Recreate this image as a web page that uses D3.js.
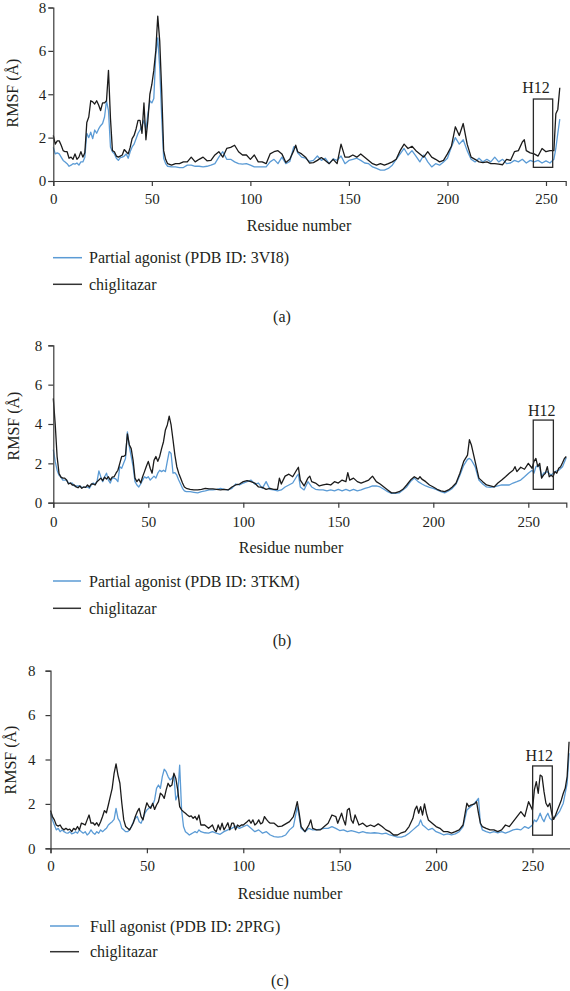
<!DOCTYPE html>
<html><head><meta charset="utf-8">
<script src="https://cdn.jsdelivr.net/npm/d3@7"></script>
<style>
body{margin:0;background:#fff}
svg{display:block}
text{font-family:"Liberation Serif","DejaVu Serif",serif;fill:#231f20}
</style>
</head><body>
<svg id="chart" width="570" height="991"></svg>
<script>
// ---------- DATA: [residue, RMSF (Å)] ----------
const xTicks = [0, 50, 100, 150, 200, 250];
const yTicks = [0, 2, 4, 6, 8];
const seriesNames = ["chiglitazar"];
const refNames = ["Partial agonist (PDB ID: 3VI8)", "Partial agonist (PDB ID: 3TKM)", "Full agonist (PDB ID: 2PRG)"];
const captions = ["(a)", "(b)", "(c)"];
const h12Boxes = [[243.6, 253.4, 0.63, 3.78], [252.6, 263.2, 0.68, 4.2], [250.1, 260.3, 0.59, 3.71]];

const A_chig = [[0,2.1],[1,1.7],[2,1.85],[3,1.85],[4,1.65],[5,1.4],[6,1.35],[7,1.35],[8,1.05],[9,1.1],[10,1.0],[11,1.25],[12,1.0],[13,1.1],[14,1.35],[15,1.1],[16,1.3],[17,2.7],[18,2.95],[19,3.7],[20,3.65],[21,3.55],[22,3.7],[23,3.5],[24,3.25],[25,3.6],[26,3.6],[27,3.7],[28,5.1],[29,2.9],[30,1.4],[31,1.35],[32,1.15],[33,1.1],[34,1.15],[35,1.2],[36,1.45],[37,1.35],[38,1.25],[39,1.55],[40,1.95],[41,2.1],[42,2.4],[43,2.8],[44,2.8],[45,2.2],[46,3.6],[47,1.9],[48,2.8],[49,4.0],[50,4.45],[51,5.1],[52,6.0],[53,7.6],[54,6.45],[55,4.15],[56,1.4],[57,1.0],
[58,0.8],[60,0.73],[62,0.8],[64,0.8],[66,0.88],[68,0.88],[70,1.1],[72,0.88],[74,1.0],[76,1.1],[78,0.93],[80,0.95],[82,1.2],[84,1.35],[86,1.1],[88,1.5],[90,1.55],[92,1.65],[94,1.35],[96,1.2],[98,1.2],[100,1.0],[102,1.2],[104,0.88],[106,0.88],[108,0.8],[110,1.25],[112,1.35],[114,1.4],[116,1.25],[118,0.85],[120,1.0],[122,1.4],[123,1.65],[124,1.35],[126,1.25],[128,1.1],[130,0.83],[132,0.85],[134,0.95],[136,1.08],[138,0.95],[140,0.8],[142,1.0],[144,0.8],[146,1.7],[148,1.1],[150,1.1],[152,1.2],[154,1.1],[156,1.25],[158,1.1],[160,0.95],[162,0.8],[164,0.73],[166,0.8],[168,0.73],[170,0.8],[172,0.88],[174,1.0],[176,1.4],[178,1.7],[180,1.5],[182,1.6],[184,1.4],[186,1.25],[188,1.1],[190,1.35],[192,1.1],[194,1.0],[196,0.88],[198,0.95],[200,1.25],[202,1.6],[204,2.5],[206,2.1],[208,2.65],[210,1.7],[212,1.1],[214,1.0],[216,0.88],[218,0.85],[220,0.88],[222,0.8],[224,0.8],[226,0.78],[228,0.75],[230,1.0],[232,0.95],[234,1.35],[236,1.4],[238,1.8],[239,1.9],[240,1.4],[242,1.3],[244,1.25],[246,1.15],[248,1.5],[250,1.35],[252,1.4],[254,1.4],[255,3.1],[256,3.3],[257,4.3]];

const A_ref = [[0,1.55],[1,1.25],[2,1.3],[3,1.25],[4,1.1],[5,0.95],[6,0.88],[7,0.8],[8,0.68],[9,0.73],[10,0.8],[11,0.78],[12,0.83],[13,0.73],[14,0.88],[15,0.88],[16,1.1],[17,2.2],[18,2.0],[19,2.25],[20,1.95],[21,2.35],[22,2.2],[23,2.4],[24,2.55],[25,2.65],[26,2.95],[27,3.7],[28,3.25],[29,1.57],[30,1.35],[31,1.25],[32,1.05],[33,0.95],[34,1.08],[35,1.1],[36,1.15],[37,1.25],[38,1.05],[39,1.35],[40,1.57],[41,1.7],[42,1.95],[43,2.2],[44,2.35],[45,2.55],[46,2.8],[47,2.35],[48,3.1],[49,3.7],[50,3.6],[51,3.8],[52,5.85],[53,6.6],[54,5.2],[55,2.95],[56,1.05],[57,0.8],
[58,0.68],[60,0.65],[62,0.65],[64,0.62],[66,0.62],[68,0.73],[70,0.73],[72,0.68],[74,0.68],[76,0.65],[78,0.68],[80,0.73],[82,0.8],[84,1.1],[86,1.35],[88,1.0],[90,1.0],[92,0.88],[94,0.8],[96,0.78],[98,0.8],[100,0.73],[102,0.65],[104,0.65],[106,0.65],[108,0.65],[110,0.88],[112,1.0],[114,0.8],[116,1.1],[118,0.8],[120,0.9],[122,1.57],[123,1.6],[124,1.3],[126,1.1],[128,1.05],[130,0.9],[132,0.95],[134,1.15],[136,0.95],[138,1.05],[140,0.8],[142,1.02],[144,0.95],[146,1.15],[148,0.8],[150,0.95],[152,1.0],[154,1.05],[156,0.95],[158,0.83],[160,0.8],[162,0.65],[164,0.58],[166,0.5],[168,0.5],[170,0.58],[172,0.73],[174,1.0],[176,1.25],[178,1.5],[180,1.2],[182,1.4],[184,1.15],[186,0.88],[188,1.2],[190,0.88],[192,0.65],[194,0.8],[196,0.73],[198,0.88],[200,1.05],[202,1.57],[204,2.0],[206,1.7],[208,1.9],[210,1.4],[212,1.0],[214,0.88],[216,1.05],[218,0.88],[220,1.0],[222,0.88],[224,1.1],[226,0.88],[228,1.0],[230,0.8],[232,0.83],[234,0.95],[236,0.88],[238,1.0],[240,0.83],[242,0.95],[244,0.88],[246,0.95],[248,0.83],[250,0.93],[252,0.83],[254,1.0],[255,1.5],[256,2.2],[257,2.85]];

const B_chig = [[0,5.3],[1,4.0],[2,2.35],[3,1.5],[4,1.3],[5,1.25],[6,1.25],[7,1.15],[8,0.95],[9,1.0],[10,0.9],[11,0.9],[12,0.8],[13,0.76],[14,0.85],[15,0.73],[16,0.8],[17,0.78],[18,0.9],[19,0.8],[20,0.95],[21,0.95],[22,0.9],[23,1.07],[24,1.15],[25,1.25],[26,1.12],[27,1.3],[28,1.2],[29,1.32],[30,1.15],[31,1.3],[32,1.32],[33,1.5],[34,1.65],[35,2.0],[36,2.35],[37,2.35],[38,2.42],[39,3.5],[40,2.95],[41,2.75],[42,2.15],[43,1.25],[44,1.07],[45,1.2],[46,1.0],[47,1.32],[48,1.58],[49,1.85],[50,2.1],[51,1.75],[52,1.5],[53,2.15],[54,2.35],[55,2.1],[56,2.35],[57,2.75],[58,3.1],[59,3.7],[60,3.95],[61,4.4],[62,3.95],[63,3.2],[64,2.42],[65,1.83],[66,1.5],[67,1.25],[68,1.0],[69,0.8],[70,0.73],
[72,0.68],[74,0.65],[76,0.65],[78,0.68],[80,0.73],[82,0.7],[84,0.7],[86,0.68],[88,0.65],[90,0.68],[92,0.65],[94,0.8],[96,0.9],[98,0.95],[100,1.07],[102,1.12],[104,1.07],[106,1.0],[108,0.8],[110,0.78],[112,0.68],[114,0.73],[116,0.68],[118,0.68],[119,1.25],[120,0.95],[122,1.35],[124,1.45],[126,1.32],[128,1.65],[129,1.8],[130,1.15],[132,0.85],[134,1.25],[135,1.35],[136,1.07],[138,1.0],[140,0.85],[142,0.9],[144,0.95],[146,0.9],[148,1.07],[150,1.0],[152,1.15],[154,1.07],[155,1.53],[156,1.15],[158,1.25],[160,1.07],[162,1.0],[164,1.07],[166,1.15],[168,1.35],[170,1.07],[172,0.95],[174,0.8],[176,0.65],[178,0.5],[180,0.5],[182,0.56],[184,0.68],[186,0.9],[188,1.15],[190,1.32],[192,1.2],[193,1.32],[194,1.2],[196,1.07],[198,0.9],[200,0.8],[202,0.68],[204,0.6],[206,0.56],[208,0.65],[210,0.8],[212,1.0],[214,1.5],[216,2.1],[218,2.42],[219,3.2],[220,2.95],[222,2.1],[224,1.25],[226,1.07],[228,0.9],[230,0.85],[232,0.8],[234,1.0],[236,1.15],[238,1.32],[240,1.5],[242,1.65],[243,1.83],[244,1.58],[246,1.8],[248,1.7],[250,2.0],[252,1.75],[253,2.1],[254,2.25],[255,1.83],[256,2.0],[257,1.25],[258,1.4],[259,1.5],[260,1.83],[261,1.32],[262,1.4],[263,1.32],[264,1.58],[265,1.5],[266,1.75],[267,1.83],[268,2.03],[269,2.25],[270,2.35]];

const B_ref = [[0,2.7],[1,2.1],[2,1.65],[3,1.4],[4,1.3],[5,1.15],[6,1.15],[7,1.15],[8,1.0],[9,1.0],[10,1.0],[11,0.85],[12,0.85],[13,0.85],[14,0.85],[15,0.78],[16,0.78],[17,0.78],[18,0.8],[19,0.73],[20,0.9],[21,1.0],[22,0.95],[23,1.07],[24,1.62],[25,1.32],[26,1.07],[27,1.32],[28,1.5],[29,1.15],[30,1.0],[31,1.25],[32,1.25],[33,1.2],[34,1.07],[35,1.83],[36,1.75],[37,2.0],[38,2.25],[39,3.6],[40,2.85],[41,2.35],[42,1.83],[43,1.07],[44,0.9],[45,0.8],[46,0.95],[47,1.15],[48,1.32],[49,1.25],[50,1.32],[51,1.15],[52,1.25],[53,1.35],[54,1.25],[55,1.5],[56,1.65],[57,1.58],[58,1.65],[59,1.58],[60,2.1],[61,2.6],[62,2.5],[63,1.5],[64,1.53],[65,1.4],[66,1.15],[67,0.95],[68,0.73],[69,0.6],[70,0.56],
[72,0.56],[74,0.53],[76,0.5],[78,0.56],[80,0.6],[82,0.65],[84,0.65],[86,0.68],[88,0.73],[90,0.68],[92,0.65],[94,0.73],[96,0.95],[98,0.9],[100,1.0],[102,1.07],[104,1.15],[106,0.95],[108,1.0],[110,0.73],[112,1.07],[114,0.68],[116,0.65],[118,0.6],[120,0.65],[122,0.8],[124,0.9],[126,1.0],[128,1.32],[129,1.45],[130,0.8],[132,0.65],[134,1.07],[136,0.8],[138,0.68],[140,0.65],[142,0.65],[144,0.6],[146,0.65],[148,0.6],[150,0.68],[152,0.6],[154,0.68],[156,0.6],[158,0.68],[160,0.6],[162,0.65],[164,0.73],[166,0.78],[168,0.85],[170,0.85],[172,0.8],[174,0.68],[176,0.56],[178,0.47],[180,0.47],[182,0.5],[184,0.65],[186,0.8],[188,1.07],[190,1.25],[192,1.07],[194,0.95],[196,0.85],[198,0.78],[200,0.73],[202,0.65],[204,0.56],[206,0.5],[208,0.6],[210,0.73],[212,0.95],[214,1.4],[216,1.9],[218,2.2],[219,2.25],[220,2.17],[222,1.83],[224,1.15],[226,0.95],[228,0.8],[230,0.78],[232,0.8],[234,0.85],[236,0.9],[238,0.9],[240,0.9],[242,1.0],[244,1.07],[246,1.15],[248,1.32],[250,1.5],[252,1.65],[253,1.5],[254,1.83],[255,1.9],[256,1.8],[257,1.32],[258,1.5],[260,1.58],[262,1.4],[264,1.58],[266,1.65],[268,1.83],[270,2.3]];

const C_chig = [[0,1.7],[1,1.43],[2,1.28],[3,1.05],[4,1.0],[5,1.05],[6,0.9],[7,0.83],[8,0.9],[9,0.83],[10,0.86],[11,0.75],[12,0.9],[13,0.83],[14,0.98],[15,0.83],[16,1.13],[17,1.1],[18,1.05],[19,1.28],[20,1.5],[21,1.13],[22,1.15],[23,1.05],[24,1.15],[25,1.0],[26,1.2],[27,1.43],[28,1.7],[29,1.6],[30,1.95],[31,2.33],[32,2.7],[33,3.38],[34,3.8],[35,3.3],[36,2.93],[37,2.03],[38,1.28],[39,0.98],[40,0.9],[41,0.83],[42,0.98],[43,1.15],[44,1.43],[45,1.65],[46,1.8],[47,1.43],[48,1.28],[49,1.73],[50,2.05],[51,1.88],[52,1.8],[53,2.03],[54,1.75],[55,1.95],[56,2.1],[57,2.48],[58,2.4],[59,2.25],[60,2.63],[61,2.93],[62,2.78],[63,2.85],[64,3.38],[65,3.15],[66,2.63],[67,1.88],[68,1.73],[69,1.65],[70,1.58],[71,1.5],[72,1.43],[73,1.46],[74,1.35],[75,1.43],[76,1.28],[77,1.5],[78,1.05],
[80,1.05],[82,0.9],[84,1.05],[85,0.83],[86,0.75],[87,1.05],[88,0.83],[89,1.13],[90,0.83],[91,0.98],[92,1.15],[93,0.83],[94,1.13],[95,1.13],[96,0.83],[97,1.05],[98,0.98],[99,1.05],[100,1.05],[102,1.2],[103,1.28],[104,1.13],[105,1.28],[106,1.05],[107,1.13],[108,1.28],[109,1.1],[110,1.15],[111,1.43],[112,1.3],[113,1.2],[114,1.13],[116,1.13],[118,0.98],[120,1.0],[122,1.1],[124,1.2],[126,1.43],[127,1.73],[128,2.1],[129,1.58],[130,0.98],[132,0.75],[134,1.05],[135,1.28],[136,0.9],[138,0.83],[140,0.83],[142,0.98],[144,1.13],[146,1.5],[148,1.43],[149,1.13],[150,1.35],[151,1.58],[152,1.28],[153,1.05],[154,1.73],[155,1.8],[156,1.28],[157,1.13],[158,1.5],[159,1.28],[160,1.05],[162,1.13],[164,0.98],[166,1.05],[168,0.98],[170,1.1],[172,0.98],[174,0.83],[176,0.75],[178,0.6],[180,0.6],[182,0.7],[184,0.75],[186,0.98],[188,1.35],[189,1.73],[190,1.9],[191,1.58],[192,1.88],[193,1.5],[194,2.0],[195,1.58],[196,1.28],[198,1.13],[200,0.98],[202,0.9],[204,0.75],[206,0.75],[208,0.68],[210,0.75],[212,0.83],[214,1.05],[216,2.03],[217,1.88],[218,1.95],[220,2.0],[221,2.1],[222,1.58],[223,1.13],[224,0.98],[226,0.9],[228,0.83],[230,0.83],[232,0.75],[234,0.83],[236,1.05],[238,0.98],[240,1.2],[242,1.43],[244,1.65],[246,1.43],[248,2.1],[250,1.73],[251,2.63],[252,3.0],[253,2.48],[254,3.3],[255,3.23],[256,2.55],[257,2.03],[258,1.88],[259,2.03],[260,1.58],[261,1.3],[262,1.5],[263,1.73],[264,1.95],[265,2.18],[266,2.48],[267,2.7],[268,3.23],[269,4.8]];

const C_ref = [[0,1.58],[1,1.28],[2,1.05],[3,0.83],[4,0.9],[5,0.75],[6,0.83],[7,0.75],[8,0.7],[9,0.68],[10,0.75],[11,0.65],[12,0.68],[13,0.75],[14,0.68],[15,0.83],[16,0.75],[17,0.68],[18,0.75],[19,0.6],[20,0.68],[21,0.83],[22,0.7],[23,0.63],[24,0.75],[25,0.68],[26,0.83],[27,0.75],[28,0.83],[29,0.9],[30,1.05],[31,1.13],[32,1.2],[33,1.3],[34,1.8],[35,1.35],[36,1.2],[37,0.9],[38,0.83],[39,0.75],[40,0.75],[41,0.83],[42,0.98],[43,1.2],[44,1.35],[45,1.43],[46,1.2],[47,1.13],[48,1.35],[49,1.58],[50,1.73],[51,1.8],[52,1.88],[53,1.95],[54,2.18],[55,2.7],[56,2.85],[57,2.7],[58,3.23],[59,3.56],[60,3.45],[61,3.23],[62,3.08],[63,3.15],[64,3.3],[65,2.18],[66,2.4],[67,3.75],[68,1.73],[69,0.98],[70,0.75],[71,0.68],[72,0.6],[73,0.65],[74,0.7],[75,0.75],[76,0.7],[77,0.83],[78,0.75],
[80,0.7],[82,0.68],[84,0.75],[86,0.68],[88,0.63],[90,0.75],[92,0.83],[94,0.9],[96,1.0],[98,0.9],[100,0.98],[102,1.05],[104,0.9],[106,0.75],[108,0.83],[110,0.68],[112,0.75],[114,0.6],[116,0.53],[118,0.5],[120,0.53],[122,0.6],[124,0.83],[126,0.98],[128,1.88],[129,1.43],[130,0.9],[132,0.75],[134,0.9],[136,0.83],[138,0.83],[140,0.86],[142,0.9],[144,0.9],[146,0.98],[148,0.9],[150,0.8],[152,0.83],[154,0.75],[156,0.8],[158,0.75],[160,0.7],[162,0.75],[164,0.7],[166,0.68],[168,0.7],[170,0.68],[172,0.65],[174,0.68],[176,0.6],[178,0.56],[180,0.5],[182,0.5],[184,0.56],[186,0.68],[188,0.83],[190,0.98],[191,1.05],[192,1.28],[193,1.05],[194,0.98],[196,0.83],[198,0.9],[200,0.75],[202,0.68],[204,0.6],[206,0.65],[208,0.6],[210,0.65],[212,0.75],[214,0.98],[216,1.73],[218,1.88],[220,2.03],[222,2.25],[223,1.13],[224,0.83],[226,0.75],[228,0.7],[230,0.75],[232,0.7],[234,0.75],[236,0.68],[238,0.75],[240,0.83],[242,0.86],[244,0.83],[246,0.98],[248,0.9],[250,1.05],[251,1.28],[252,1.2],[253,1.35],[254,1.58],[255,1.35],[256,1.2],[257,1.43],[258,1.58],[259,1.35],[260,1.28],[262,1.43],[264,1.65],[266,2.03],[268,2.93],[269,4.28]];

// ---------- LAYOUT ----------
const BLUE = "#5b9bd5", BLACK = "#1b1b1b", AXIS = "#3a3a3a";
const panels = [
  {ref:A_ref, chig:A_chig, name:refNames[0], cap:captions[0], box:h12Boxes[0], xmax:260,
   xr:[53.3,565.7], yr:[181,7.5], yPad:2, xPad:7.5, ylab:[12,93], xlab:[299,225], leg:[257.7,284.3], legX:[53,82,89], capPos:[282,316], h12:[536,87]},
  {ref:B_ref, chig:B_chig, name:refNames[1], cap:captions[1], box:h12Boxes[1], xmax:270,
   xr:[53.3,566.3], yr:[502.7,345.3], yPad:6, xPad:9, ylab:[13,426], xlab:[291,547.7], leg:[581,608.3], legX:[53,81,89], capPos:[282,640], h12:[541.7,410]},
  {ref:C_ref, chig:C_chig, name:refNames[2], cap:captions[2], box:h12Boxes[2], xmax:270,
   xr:[50.5,571], yr:[848.3,670.7], yPad:10, xPad:7, ylab:[10,760], xlab:[290,893], leg:[926,951.7], legX:[50,79,90], capPos:[280,980.5], h12:[539.3,755]}
];

const svg = d3.select("#chart");

panels.forEach(p => {
  const x = d3.scaleLinear().domain([0, p.xmax]).range(p.xr);
  const y = d3.scaleLinear().domain([0, 8]).range(p.yr);
  const g = svg.append("g");

  const line = d3.line().x(d => x(d[0])).y(d => y(d[1]));
  g.append("path").datum(p.ref).attr("d", line).attr("fill","none")
    .attr("stroke", BLUE).attr("stroke-width", 1.3).attr("stroke-linejoin","round");
  g.append("path").datum(p.chig).attr("d", line).attr("fill","none")
    .attr("stroke", BLACK).attr("stroke-width", 1.3).attr("stroke-linejoin","round");

  // axes
  const xa = g.append("g").attr("transform", `translate(0,${p.yr[0]})`)
    .call(d3.axisBottom(x).tickValues(xTicks).tickSize(5).tickPadding(p.xPad).tickFormat(d3.format("d")));
  const ya = g.append("g").attr("transform", `translate(${p.xr[0]},0)`)
    .call(d3.axisLeft(y).tickValues(yTicks).tickSize(5).tickPadding(p.yPad).tickFormat(d3.format("d")));
  [xa, ya].forEach(a => {
    a.select(".domain").attr("stroke", AXIS).attr("stroke-width", 1.2);
    a.selectAll(".tick line").attr("stroke", AXIS).attr("stroke-width", 1.2);
    a.selectAll(".tick text").attr("font-size", 15).attr("fill", "#231f20")
      .attr("font-family", '"Liberation Serif","DejaVu Serif",serif');
  });

  // H12 box
  const [b0, b1, v0, v1] = p.box;
  g.append("rect").attr("x", x(b0)).attr("y", y(v1))
    .attr("width", x(b1) - x(b0)).attr("height", y(v0) - y(v1))
    .attr("fill","none").attr("stroke", "#2a2a2a").attr("stroke-width", 1.3);
  g.append("text").attr("x", p.h12[0]).attr("y", p.h12[1]).attr("text-anchor","middle")
    .attr("dominant-baseline","central").attr("font-size", 16).text("H12");

  // axis labels
  g.append("text").attr("transform", `translate(${p.ylab[0]},${p.ylab[1]}) rotate(-90)`)
    .attr("text-anchor","middle").attr("dominant-baseline","central").attr("font-size", 16).text("RMSF (Å)");
  g.append("text").attr("x", p.xlab[0]).attr("y", p.xlab[1]).attr("text-anchor","middle")
    .attr("dominant-baseline","central").attr("font-size", 16).text("Residue number");

  // legend
  const legItems = [{t:p.name, c:BLUE}, {t:seriesNames[0], c:"#333"}];
  legItems.forEach((it, i) => {
    const ly = p.leg[i];
    g.append("line").attr("x1", p.legX[0]).attr("x2", p.legX[1]).attr("y1", ly).attr("y2", ly)
      .attr("stroke", it.c).attr("stroke-width", 1.5);
    g.append("text").attr("x", p.legX[2]).attr("y", ly).attr("dominant-baseline","central")
      .attr("font-size", 16).text(it.t);
  });

  // caption
  g.append("text").attr("x", p.capPos[0]).attr("y", p.capPos[1]).attr("text-anchor","middle")
    .attr("dominant-baseline","central").attr("font-size", 16).text(p.cap);
});
</script>
</body></html>
